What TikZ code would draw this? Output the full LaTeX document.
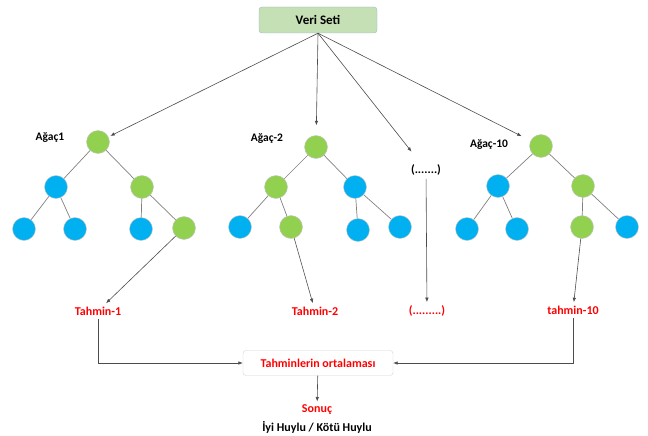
\documentclass[tikz,border=0pt]{standalone}
\usepackage{fontspec}
\setmainfont{Carlito}
\usetikzlibrary{arrows.meta}
\definecolor{leafgreen}{HTML}{92D050}
\definecolor{leafblue}{HTML}{00B0F0}
\definecolor{boxgreen}{HTML}{C5E0B4}
\definecolor{boxline}{HTML}{9DB3CF}
\begin{document}
\begin{tikzpicture}[x=1pt,y=-1pt, every node/.style={font=\bfseries\fontsize{12}{14}\selectfont},
  gnode/.style={circle,draw=gray!45,fill=leafgreen,minimum size=23pt,inner sep=0pt},
  bnode/.style={circle,draw=gray!45,fill=leafblue,minimum size=23pt,inner sep=0pt},
  link/.style={gray,line width=0.7pt},
  arr/.style={black!70,line width=0.6pt,-{Latex[length=4.5pt,width=3.5pt]}},
  pred/.style={text=red}]
\useasboundingbox (0,0) rectangle (648,436);
% data set
\node[draw=boxline,fill=boxgreen,rounded corners=3pt,minimum width=118pt,minimum height=26pt,
  font=\bfseries\fontsize{13}{15}\selectfont] (vs) at (318,20) {Veri Seti};
% tree 1
\node[font=\bfseries\fontsize{11.5}{13}\selectfont] (a1) at (50,138) {Ağaç1};
\node[gnode] (r1) at (98,142) {};
\node[bnode] (n1a) at (56,187) {};
\node[gnode] (n1b) at (142,187) {};
\node[bnode] (l1a) at (24,229) {};
\node[bnode] (l1b) at (75,229) {};
\node[bnode] (l1c) at (141,229) {};
\node[gnode] (l1d) at (184,228) {};
\draw[link] (r1)--(n1a); \draw[link] (r1)--(n1b);
\draw[link] (n1a)--(l1a); \draw[link] (n1a)--(l1b);
\draw[link] (n1b)--(l1c); \draw[link] (n1b)--(l1d);
% tree 2
\node[font=\bfseries\fontsize{11.5}{13}\selectfont] (a2) at (267,139) {Ağaç-2};
\node[gnode] (r2) at (316,147) {};
\node[gnode] (n2a) at (276,187) {};
\node[bnode] (n2b) at (355,187) {};
\node[bnode] (l2a) at (240,227) {};
\node[gnode] (l2b) at (291,227) {};
\node[bnode] (l2c) at (358,230) {};
\node[bnode] (l2d) at (400,227) {};
\draw[link] (r2)--(n2a); \draw[link] (r2)--(n2b);
\draw[link] (n2a)--(l2a); \draw[link] (n2a)--(l2b);
\draw[link] (n2b)--(l2c); \draw[link] (n2b)--(l2d);
% other trees
\node (dots) at (426,170) {(.......)};
% tree 10
\node[font=\bfseries\fontsize{11.5}{13}\selectfont] (a10) at (489,145) {Ağaç-10};
\node[gnode] (r10) at (541,146) {};
\node[bnode] (n10a) at (498,186) {};
\node[gnode] (n10b) at (583,186) {};
\node[bnode] (l10a) at (467,229) {};
\node[bnode] (l10b) at (517,229) {};
\node[gnode] (l10c) at (582,227) {};
\node[bnode] (l10d) at (627,227) {};
\draw[link] (r10)--(n10a); \draw[link] (r10)--(n10b);
\draw[link] (n10a)--(l10a); \draw[link] (n10a)--(l10b);
\draw[link] (n10b)--(l10c); \draw[link] (n10b)--(l10d);
% predictions
\node[pred] (p1) at (98,311) {Tahmin-1};
\node[pred] (p2) at (315,311) {Tahmin-2};
\node[pred] (pd) at (427,311) {(.........)};
\node[pred] (p10) at (573,310) {tahmin-10};
% average and result
\node[draw=gray!35,rounded corners=3pt,minimum width=150pt,minimum height=25pt,pred] (avg) at (318,363) {Tahminlerin ortalaması};
\node[pred] (son) at (317,410) {Sonuç};
\node (res) at (317,427) {İyi Huylu / Kötü Huylu};
% arrows
\draw[arr,shorten >=2pt] (vs.south)--(r1);
\draw[arr,shorten >=10pt] (vs.south)--(r2);
\draw[arr,shorten >=12pt] (vs.south)--(dots);
\draw[arr,shorten >=10pt] (vs.south)--(r10);
\draw[arr] (l1d)--(p1);
\draw[arr] (l2b)--(p2);
\draw[arr] (dots)--(pd);
\draw[arr] (l10c)--(p10);
\draw[arr] (p1.south) |- (avg.west);
\draw[arr] (p10.south) |- (avg.east);
\draw[arr] (avg)--(son);
\end{tikzpicture}
\end{document}
